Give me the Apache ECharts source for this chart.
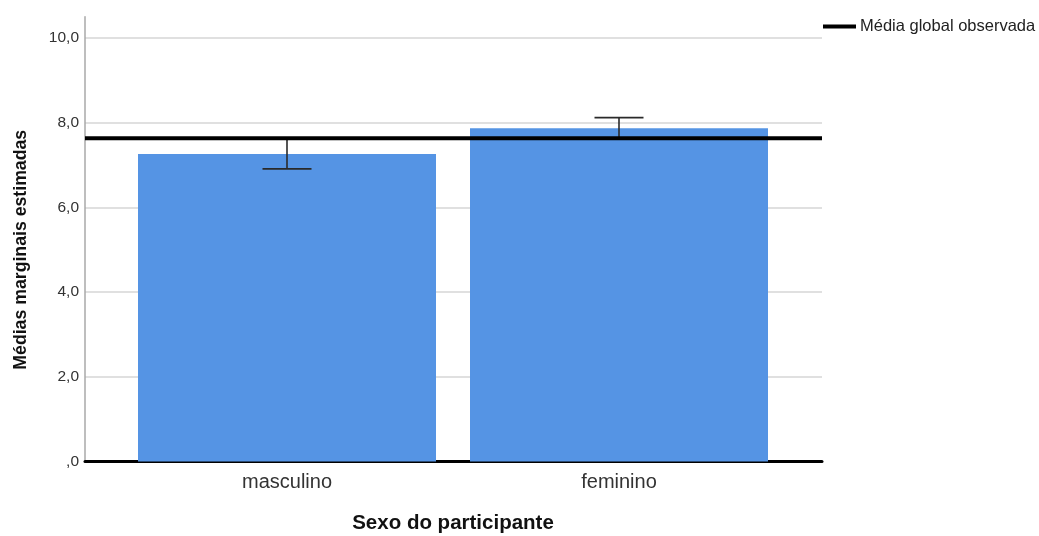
<!DOCTYPE html>
<html>
<head>
<meta charset="utf-8">
<script src="https://cdn.jsdelivr.net/npm/echarts@6/dist/echarts.min.js"></script>
<style>html,body{margin:0;padding:0;background:#fff}#c{width:1039px;height:536px}</style>
</head>
<body>
<div id="c"></div>
<script>
const categories = ['masculino', 'feminino'];
const means = [7.26, 7.87];
const ciLow = [6.91, 7.62];
const ciHigh = [7.61, 8.12];
const globalMean = 7.63;
const yTicks = [0, 2, 4, 6, 8, 10];

const FONT = '"Liberation Sans", Arial, sans-serif';
const chart = echarts.init(document.getElementById('c'), null, {renderer: 'canvas'});
const fmt = v => v === 0 ? ',0' : v.toFixed(1).replace('.', ',');

chart.setOption({
  animation: false,
  textStyle: {fontFamily: FONT},
  grid: [
    {left: 85, right: 217, top: 16.8, bottom: 74.5, outerBoundsMode: 'none', containLabel: false},
    {left: 121, right: 254, top: 38, bottom: 74.5, outerBoundsMode: 'none', containLabel: false}
  ],
  legend: {
    left: 823, top: 18, padding: 0,
    itemWidth: 33, itemHeight: 4, itemGap: 4,
    icon: 'rect',
    data: ['Média global observada'],
    textStyle: {fontFamily: FONT, fontSize: 16.5, color: '#222', padding: [2, 0, 0, -1]}
  },
  xAxis: [
    {gridIndex: 0, type: 'value', min: 0, max: 1,
     axisLine: {show: true, onZero: false, lineStyle: {color: '#000', width: 3}},
     axisTick: {show: false}, axisLabel: {show: false}, splitLine: {show: false}},
    {gridIndex: 1, type: 'category', data: categories, boundaryGap: true,
     axisLine: {show: false}, axisTick: {show: false},
     axisLabel: {margin: 11, fontSize: 20, color: '#333', fontFamily: FONT},
     name: 'Sexo do participante', nameLocation: 'middle', nameGap: 51,
     nameTextStyle: {fontSize: 20.5, fontWeight: 'bold', color: '#111', fontFamily: FONT}}
  ],
  yAxis: [
    {gridIndex: 0, type: 'value', min: 0, max: 10.5, interval: 2,
     axisLine: {show: true, lineStyle: {color: '#a8a8a8', width: 1.5}},
     axisTick: {show: false},
     axisLabel: {showMaxLabel: false, margin: 6, fontSize: 15.5, color: '#333', fontFamily: FONT,
       formatter: v => yTicks.includes(v) ? fmt(v) : ''},
     splitLine: {show: true, showMaxLine: false, showMinLine: false, lineStyle: {color: '#d6d6d6', width: 1.5}}},
    {gridIndex: 1, type: 'value', min: 0, max: 10, show: true,
     axisLine: {show: false}, axisTick: {show: false}, axisLabel: {show: false}, splitLine: {show: false},
     name: 'Médias marginais estimadas', nameLocation: 'middle', nameGap: 91, nameRotate: 90,
     nameTextStyle: {fontSize: 17.7, fontWeight: 'bold', color: '#111', fontFamily: FONT}}
  ],
  series: [
    {type: 'bar', xAxisIndex: 1, yAxisIndex: 1, data: means, barWidth: 298,
     itemStyle: {color: '#5594e4'}, z: 2},
    {type: 'custom', xAxisIndex: 1, yAxisIndex: 1, z: 3,
     data: categories.map((c, i) => [i, ciLow[i], ciHigh[i]]),
     renderItem: (params, api) => {
       const lo = api.coord([api.value(0), api.value(1)]);
       const hi = api.coord([api.value(0), api.value(2)]);
       const hw = 24.5;
       const st = {stroke: '#2a2a2a', lineWidth: 1.6};
       return {type: 'group', children: [
         {type: 'line', shape: {x1: lo[0], y1: lo[1], x2: hi[0], y2: hi[1]}, style: st},
         {type: 'line', shape: {x1: lo[0] - hw, y1: lo[1], x2: lo[0] + hw, y2: lo[1]}, style: st},
         {type: 'line', shape: {x1: hi[0] - hw, y1: hi[1], x2: hi[0] + hw, y2: hi[1]}, style: st}
       ]};
     }},
    {type: 'line', name: 'Média global observada', xAxisIndex: 0, yAxisIndex: 0, z: 5,
     data: [[0, globalMean], [1, globalMean]], symbol: 'none',
     lineStyle: {color: '#000', width: 4}, itemStyle: {color: '#000'}}
  ]
});
</script>
</body>
</html>
